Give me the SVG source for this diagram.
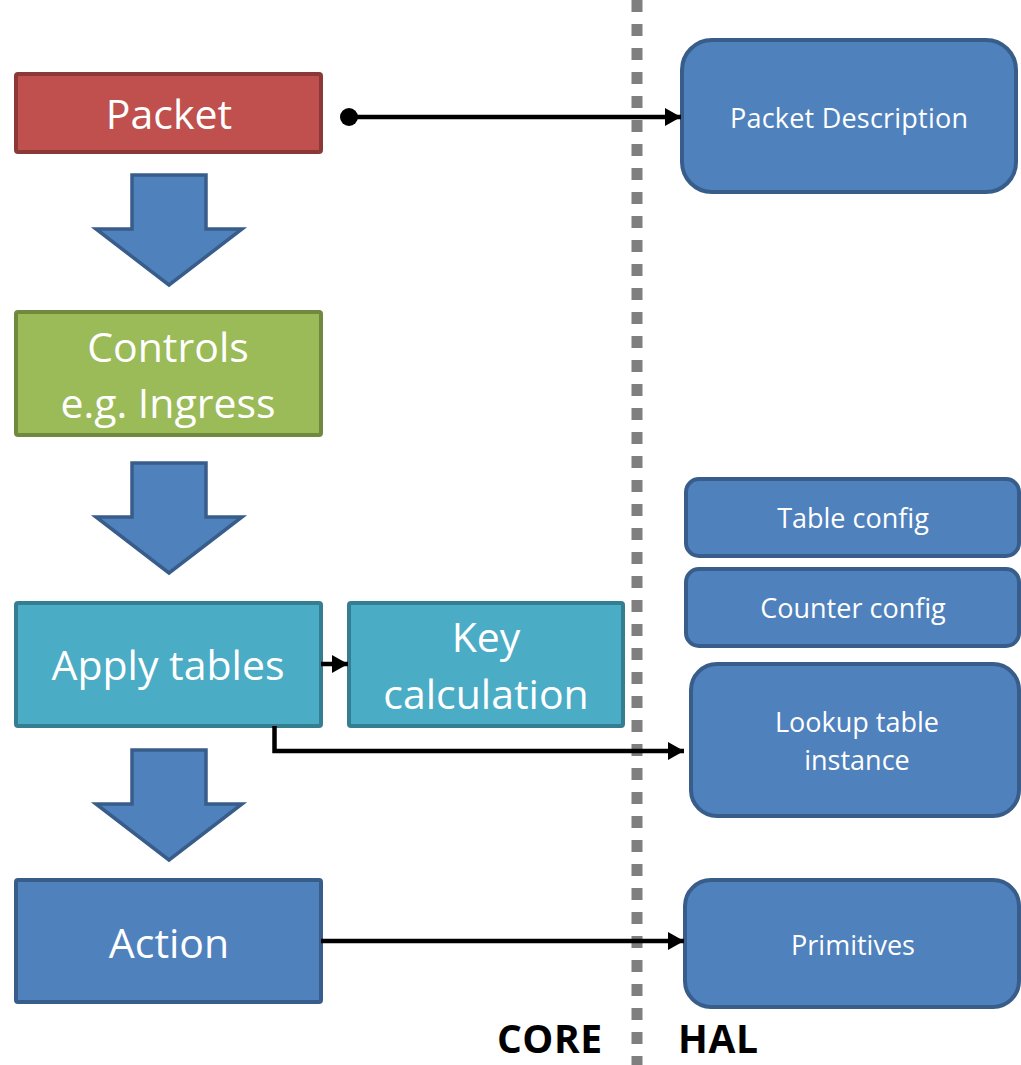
<svg xmlns="http://www.w3.org/2000/svg" width="1021" height="1065" viewBox="0 0 1021 1065">
  <style>
    .lbl { font-family: "Open Sans", "DejaVu Sans", sans-serif; fill: #ffffff; text-anchor: middle; }
    .big { font-size: 41px; }
    .small { font-size: 27px; }
    .side { font-family: "Open Sans", "DejaVu Sans", sans-serif; font-weight: bold; font-size: 39px; fill: #000000; }
    .red { fill: #c0504d; stroke: #8c3836; stroke-width: 4; }
    .green { fill: #9bbb59; stroke: #71893f; stroke-width: 4; }
    .teal { fill: #4bacc6; stroke: #357d91; stroke-width: 4; }
    .blue { fill: #4f81bd; stroke: #385d8a; stroke-width: 4; }
    .wire { fill: none; stroke: #000000; stroke-width: 4.5; }
    .divider { stroke: #7f7f7f; stroke-width: 11; stroke-dasharray: 12 12; }
  </style>
  <defs>
    <marker id="head" viewBox="0 0 16 18" refX="16" refY="9" markerWidth="16" markerHeight="18" markerUnits="userSpaceOnUse" orient="auto">
      <path d="M0,0 L16,9 L0,18 Z" fill="#000000"/>
    </marker>
    <marker id="dot" viewBox="0 0 18 18" refX="9" refY="9" markerWidth="18" markerHeight="18" markerUnits="userSpaceOnUse">
      <circle cx="9" cy="9" r="9" fill="#000000"/>
    </marker>
    <!-- block arrow pointing down, origin at top of shaft centre -->
    <path id="flow" d="M-37,0 L37,0 L37,54 L73,54 L0,110 L-73,54 L-37,54 Z"/>
  </defs>

  <!-- CORE / HAL divider -->
  <line class="divider" x1="637" y1="0" x2="637" y2="1065"/>

  <!-- core pipeline -->
  <g id="packet">
    <rect class="red" x="16" y="74" width="305" height="78" rx="2"/>
    <text class="lbl big" x="169" y="129">Packet</text>
  </g>
  <g id="flow1"><use href="#flow" class="blue" transform="translate(169,175)" style="stroke-width:3.5"/></g>

  <g id="controls">
    <rect class="green" x="16" y="312" width="305" height="123" rx="2"/>
    <text class="lbl big" x="168" y="362">Controls</text>
    <text class="lbl big" x="168" y="418">e.g. Ingress</text>
  </g>
  <g id="flow2"><use href="#flow" class="blue" transform="translate(169,463)" style="stroke-width:3.5"/></g>

  <g id="apply-tables">
    <rect class="teal" x="16" y="603" width="305" height="123" rx="2"/>
    <text class="lbl big" x="168" y="680">Apply tables</text>
  </g>
  <g id="key-calculation">
    <rect class="teal" x="349" y="603" width="274" height="123" rx="2"/>
    <text class="lbl big" x="486" y="652">Key</text>
    <text class="lbl big" x="486" y="709">calculation</text>
  </g>
  <g id="flow3"><use href="#flow" class="blue" transform="translate(169,750)" style="stroke-width:3.5"/></g>

  <g id="action">
    <rect class="blue" x="16" y="880" width="305" height="122" rx="2"/>
    <text class="lbl big" x="169" y="958">Action</text>
  </g>

  <!-- HAL side -->
  <g id="packet-description">
    <rect class="blue" x="682" y="40" width="334" height="152" rx="30"/>
    <text class="lbl small" x="849" y="128" textLength="238">Packet Description</text>
  </g>
  <g id="table-config">
    <rect class="blue" x="686" y="479" width="333" height="77" rx="13"/>
    <text class="lbl small" x="853" y="528">Table config</text>
  </g>
  <g id="counter-config">
    <rect class="blue" x="686" y="569" width="333" height="77" rx="13"/>
    <text class="lbl small" x="853" y="618">Counter config</text>
  </g>
  <g id="lookup-table-instance">
    <rect class="blue" x="691" y="664" width="328" height="152" rx="26"/>
    <text class="lbl small" x="857" y="732">Lookup table</text>
    <text class="lbl small" x="857" y="770">instance</text>
  </g>
  <g id="primitives">
    <rect class="blue" x="685" y="880" width="334" height="127" rx="26"/>
    <text class="lbl small" x="853" y="955">Primitives</text>
  </g>

  <!-- connectors -->
  <g id="connectors">
    <line class="wire" x1="349" y1="117" x2="681" y2="117" marker-start="url(#dot)" marker-end="url(#head)"/>
    <line class="wire" x1="321" y1="664" x2="348" y2="664" marker-end="url(#head)"/>
    <polyline class="wire" points="274.5,726 274.5,751 684,751" marker-end="url(#head)"/>
    <line class="wire" x1="321" y1="941" x2="684" y2="941" marker-end="url(#head)"/>
  </g>

  <!-- layer labels -->
  <text class="side" x="497" y="1053" textLength="105">CORE</text>
  <text class="side" x="678" y="1053" textLength="80">HAL</text>
</svg>
